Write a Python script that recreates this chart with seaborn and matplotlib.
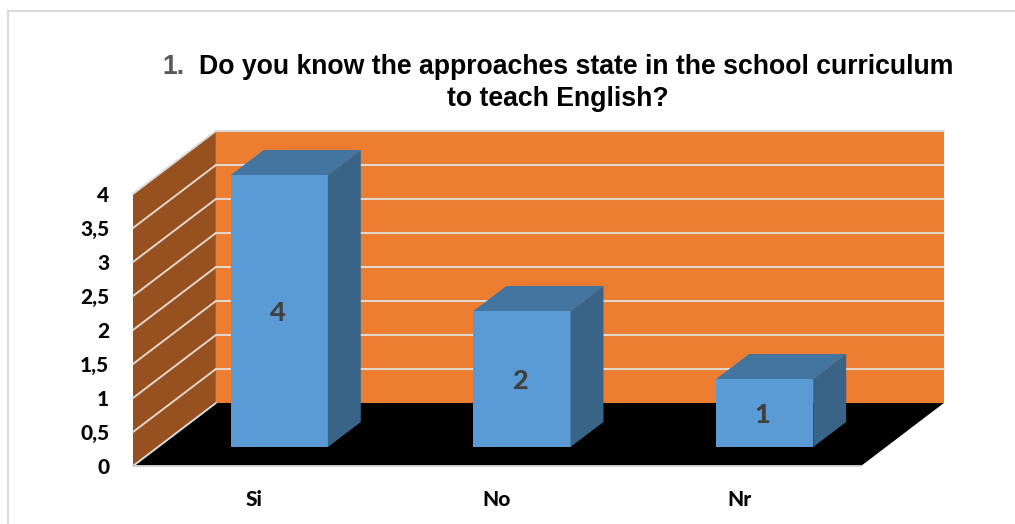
import matplotlib
matplotlib.use("Agg")
import matplotlib.pyplot as plt
from matplotlib.lines import Line2D
from matplotlib.patches import Polygon
import pandas as pd
import seaborn as sns

categories = ["Si", "No", "Nr"]
answers = [4, 2, 1]
y_ticks = [0, 0.5, 1, 1.5, 2, 2.5, 3, 3.5, 4]
y_tick_labels = ["0", "0,5", "1", "1,5", "2", "2,5", "3", "3,5", "4"]
title_number = "1."
title_first = "Do you know the approaches state in the school curriculum"
title_second = "to teach English?"

WALL = "#ED7D31"
SIDE_WALL = "#97501F"
FLOOR = "#000000"
GRID = "#E3D6CB"
BAR = "#5B9BD5"
BAR_TOP = "#4475A1"
BAR_SIDE = "#3A6487"

W, H = 1015, 524
sns.set_theme(style="white")
plt.rcParams["font.family"] = ["Lato", "DejaVu Sans"]
fig = plt.figure(figsize=(W / 100, H / 100), dpi=100, facecolor="white")


def axes_box(left, top, right, bottom):
    """Figure-fraction rectangle from pixel edges."""
    return [left / W, 1 - bottom / H, (right - left) / W, (bottom - top) / H]


# Front plane of the 3D box carries the real category and value axes.
ax = fig.add_axes(axes_box(133, 194, 861, 466), facecolor="none")
ax.set_xlim(-0.5, 2.5)
ax.set_ylim(0, 4)
ax.set_xticks(range(len(categories)), categories)
ax.set_yticks(y_ticks, y_tick_labels)
ax.tick_params(length=0, labelsize=15, labelcolor="#050505")
ax.tick_params(axis="x", pad=17)
ax.tick_params(axis="y", pad=17)
for label in ax.get_xticklabels() + ax.get_yticklabels():
    label.set_fontweight("black")
sns.despine(ax=ax, left=True, bottom=True)

# Receding depth of the box, in the units of the front axes.
DX = 83 / 243
DY = 63 / 68


def box_poly(points, color, zorder):
    poly = [(x + d * DX, y + d * DY) for x, y, d in points]
    ax.add_patch(Polygon(poly, closed=True, facecolor=color, edgecolor="none",
                         clip_on=False, zorder=zorder))


x0, x1 = ax.get_xlim()
y0, y1 = ax.get_ylim()
box_poly([(x0, y0, 1), (x1, y0, 1), (x1, y1, 1), (x0, y1, 1)], WALL, 1)
box_poly([(x0, y0, 0), (x0, y0, 1), (x0, y1, 1), (x0, y1, 0)], SIDE_WALL, 1)
box_poly([(x0, y0, 0), (x1, y0, 0), (x1, y0, 1), (x0, y0, 1)], FLOOR, 1)

for tick in y_ticks:
    line_color = "#D9D9D9" if tick in (0, 4) else GRID
    if tick != 0:
        ax.add_line(Line2D([x0 + DX, x1 + DX], [tick + DY, tick + DY],
                           color=line_color, lw=1.5, clip_on=False, zorder=2))
    ax.add_line(Line2D([x0, x0 + DX], [tick, tick + DY], color=line_color,
                       lw=1.4, clip_on=False, zorder=2))
ax.add_line(Line2D([x0, x1], [y0, y0], color="#D0D0D0", lw=1.4,
                   clip_on=False, zorder=2))

# Bars stand on a plane set back into the box; it has the same scales.
bar_ax = fig.add_axes(axes_box(158, 175, 886, 447), facecolor="none")
table = pd.DataFrame({"category": categories, "answers": answers})
sns.barplot(data=table, x="category", y="answers", ax=bar_ax, color=BAR,
            saturation=1, width=0.4, linewidth=0, zorder=3)
bar_ax.set_xlim(-0.5, 2.5)
bar_ax.set_ylim(0, 4)
bar_ax.axis("off")

BAR_DX = 33 / 243
BAR_DY = 25 / 68
for patch, value in zip(list(bar_ax.patches), answers):
    left = patch.get_x()
    right = left + patch.get_width()
    top = patch.get_height()
    bar_ax.add_patch(Polygon(
        [(left, top), (right, top), (right + BAR_DX, top + BAR_DY),
         (left + BAR_DX, top + BAR_DY)],
        closed=True, facecolor=BAR_TOP, edgecolor="none", clip_on=False, zorder=3))
    bar_ax.add_patch(Polygon(
        [(right, 0), (right + BAR_DX, BAR_DY), (right + BAR_DX, top + BAR_DY),
         (right, top)],
        closed=True, facecolor=BAR_SIDE, edgecolor="none", clip_on=False, zorder=3))
    bar_ax.annotate(str(value), xy=((left + right) / 2, top / 2), xytext=(-1.5, -1.5),
                    textcoords="offset points", ha="center", va="center",
                    fontsize=19.5, fontweight="black", color="#404040", zorder=5)

# Title: grey list number followed by the black question.
title_font = dict(family="Liberation Sans", fontweight="bold", fontsize=19.2,
                  va="center")
fig.text(162 / W, 1 - 67.5 / H, title_number, color="#595959", ha="left", **title_font)
fig.text(199 / W, 1 - 67.5 / H, title_first, color="black", ha="left", **title_font)
fig.text(558 / W, 1 - 98.5 / H, title_second, color="black", ha="center", **title_font)

# Chart frame, cut off by the page edges.
for xs, ys in (([8, 8], [524, 11]), ([8, 1015], [11, 11])):
    fig.add_artist(Line2D([x / W for x in xs], [1 - y / H for y in ys],
                          color="#D9D9D9", lw=1.5))

fig.savefig("out.png", dpi=100, facecolor="white")
